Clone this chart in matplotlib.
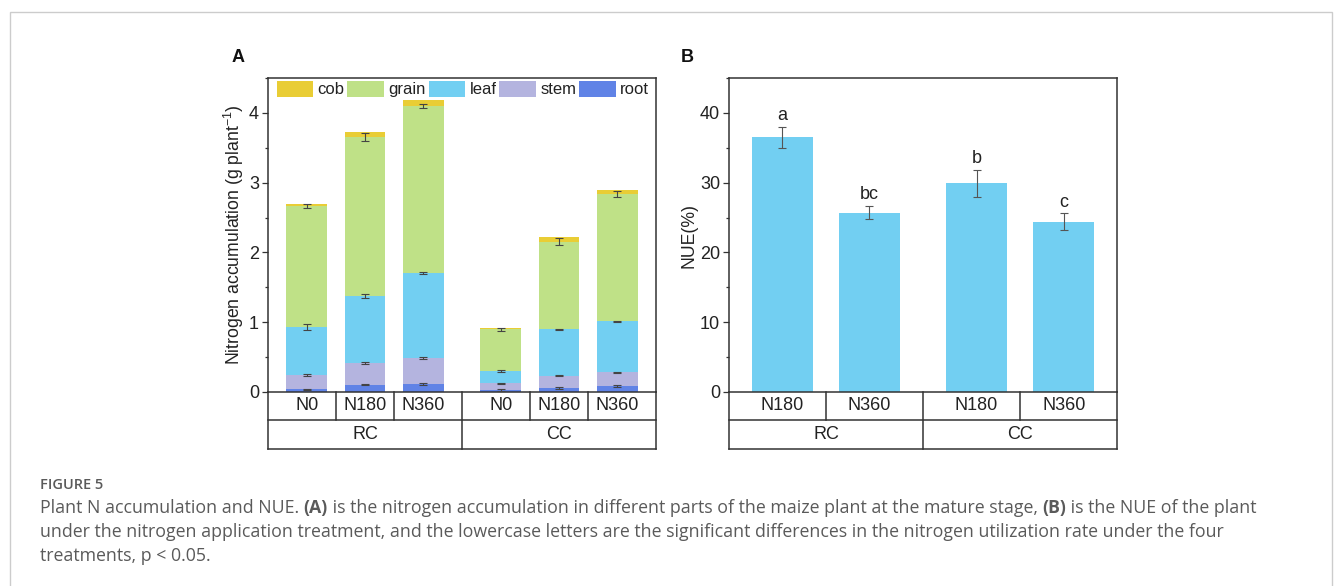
import matplotlib
matplotlib.use("Agg")
import matplotlib.pyplot as plt
import numpy as np
from matplotlib.patches import Rectangle, Patch
from matplotlib.ticker import MultipleLocator

plt.rcParams['font.family'] = ['Liberation Sans', 'DejaVu Sans']
plt.rcParams['mathtext.fontset'] = 'custom'
plt.rcParams['mathtext.rm'] = 'Liberation Sans'
plt.rcParams['mathtext.it'] = 'Liberation Sans:italic'

# ---------------- data ----------------
treatments_a = ["N0", "N180", "N360", "N0", "N180", "N360"]
systems = ["RC", "CC"]
parts = ["cob", "grain", "leaf", "stem", "root"]
root = [0.04, 0.105, 0.115, 0.03, 0.057, 0.086]
stem = [0.21, 0.31, 0.372, 0.094, 0.177, 0.196]
leaf = [0.68, 0.961, 1.219, 0.172, 0.664, 0.731]
grain = [1.73, 2.274, 2.394, 0.602, 1.257, 1.827]
cob = [0.04, 0.07, 0.08, 0.022, 0.067, 0.06]
root_err = [0.01, 0.01, 0.01, 0.01, 0.01, 0.01]
stem_err = [0.015, 0.02, 0.02, 0.01, 0.01, 0.01]
leaf_err = [0.04, 0.035, 0.02, 0.015, 0.01, 0.01]
grain_err = [0.03, 0.055, 0.03, 0.025, 0.055, 0.045]

treatments_b = ["N180", "N360", "N180", "N360"]
nue = [36.5, 25.7, 29.9, 24.4]
nue_err = [1.5, 0.95, 1.9, 1.2]
nue_letters = ["a", "bc", "b", "c"]

colors = {"cob": "#E9CD35", "grain": "#BFE187", "leaf": "#72CFF2",
          "stem": "#B4B4DF", "root": "#6083E6"}
ink = "#222222"
errc = "#444444"
FS = 13

W, H = 1335, 586
fig = plt.figure(figsize=(W / 100, H / 100), dpi=100)

def px_axes(l, t, r, b):
    return fig.add_axes([l / W, 1 - b / H, (r - l) / W, (b - t) / H])

axA = px_axes(268, 78, 656, 392)
axB = px_axes(729, 78, 1117, 392)

# ---------- panel A ----------
gapA = 0.335
xA = np.array([i + (gapA if i >= 3 else 0) for i in range(6)])
wA = 0.70
vals = {"root": root, "stem": stem, "leaf": leaf, "grain": grain, "cob": cob}
errs = {"root": root_err, "stem": stem_err, "leaf": leaf_err, "grain": grain_err}
bottom = np.zeros(6)
for p in ["root", "stem", "leaf", "grain", "cob"]:
    v = np.array(vals[p])
    axA.bar(xA, v, wA, bottom=bottom, color=colors[p], edgecolor="none", zorder=2)
    if p in errs:
        axA.errorbar(xA, bottom + v, yerr=errs[p], fmt="none", ecolor=errc,
                     elinewidth=0.8, capsize=2.6, capthick=0.8, zorder=3)
    bottom = bottom + v

axA.set_xlim(-0.665, xA[-1] + 0.665)
axA.set_ylim(0, 4.5)
axA.yaxis.set_major_locator(MultipleLocator(1))
axA.yaxis.set_minor_locator(MultipleLocator(0.5))
axA.set_ylabel(r"Nitrogen accumulation (g plant$^{-1}$)", fontsize=12.7, color=ink, labelpad=2)

handles = [Patch(facecolor=colors[p], edgecolor="none") for p in parts]
axA.legend(handles, parts, ncol=5, loc="upper left", bbox_to_anchor=(0.022, 0.992),
           frameon=False, fontsize=12, handlelength=2.2, handleheight=1.1,
           handletextpad=0.25, columnspacing=0.18, borderpad=0, borderaxespad=0,
           labelcolor=ink)

# ---------- panel B ----------
gapB = 0.23
xB = np.array([i + (gapB if i >= 2 else 0) for i in range(4)])
wB = 0.70
axB.bar(xB, nue, wB, color=colors["leaf"], edgecolor="none", zorder=2)
axB.errorbar(xB, nue, yerr=nue_err, fmt="none", ecolor="#555555",
             elinewidth=0.8, capsize=3, capthick=0.8, zorder=3)
for x, v, e, s in zip(xB, nue, nue_err, nue_letters):
    axB.annotate(s, (x, v + e), xytext=(0, 2), textcoords="offset points",
                 ha="center", va="bottom", fontsize=FS, color=ink)
axB.set_xlim(-0.61, xB[-1] + 0.61)
axB.set_ylim(0, 45)
axB.yaxis.set_major_locator(MultipleLocator(10))
axB.yaxis.set_minor_locator(MultipleLocator(5))
axB.set_ylabel("NUE(%)", fontsize=12.7, color=ink, labelpad=2)

# ---------- common styling + category tables ----------
row1 = 28 / 314
row2 = 57 / 314
for ax, xs, labels, ngroup in [(axA, xA, treatments_a, 3), (axB, xB, treatments_b, 2)]:
    for s in ax.spines.values():
        s.set_color("#333333")
        s.set_linewidth(1.1)
    ax.set_xticks([])
    ax.tick_params(axis="y", which="major", direction="out", length=4.5, width=0.9,
                   labelsize=FS, colors="#333333", labelcolor=ink, pad=2)
    ax.tick_params(axis="y", which="minor", direction="out", length=2.5, width=0.9,
                   colors="#333333")
    trans = ax.get_xaxis_transform()
    x0, x1 = ax.get_xlim()
    lk = dict(color="#333333", lw=1.1, transform=trans, clip_on=False)
    ax.plot([x0, x1], [-row1, -row1], **lk)
    ax.plot([x0, x1], [-row2, -row2], **lk)
    ax.plot([x0, x0], [0, -row2], **lk)
    ax.plot([x1, x1], [0, -row2], **lk)
    n = len(xs)
    for i in range(n - 1):
        xm = (xs[i] + xs[i + 1]) / 2
        if (i + 1) % ngroup == 0:
            ax.plot([xm, xm], [0, -row2], **lk)
        else:
            ax.plot([xm, xm], [0, -row1], **lk)
    for x, lab in zip(xs, labels):
        ax.text(x, -row1 / 2, lab, transform=trans, ha="center", va="center",
                fontsize=FS, color=ink)
    bounds = [x0] + [(xs[g * ngroup - 1] + xs[g * ngroup]) / 2 for g in range(1, len(systems))] + [x1]
    for g, sname in enumerate(systems):
        ax.text((bounds[g] + bounds[g + 1]) / 2, -(row1 + row2) / 2, sname, transform=trans,
                ha="center", va="center", fontsize=FS, color=ink)

fig.text(238 / W, 1 - 57 / H, "A", fontsize=13, fontweight="bold", ha="center", va="center", color="#111111")
fig.text(687 / W, 1 - 57 / H, "B", fontsize=13, fontweight="bold", ha="center", va="center", color="#111111")

# ---------- frame + caption ----------
fig.patches.append(Rectangle((10 / W, -0.1), (1332 - 10) / W, 1.1 - 12 / H,
                             transform=fig.transFigure, fill=False, edgecolor="#CCCCCC",
                             lw=1.0, clip_on=False))

capc = "#5A5A5A"
cfont = ["Open Sans", "DejaVu Sans"]
fig.text(40 / W, 1 - 485 / H, "FIGURE 5", fontsize=10.5, fontweight="semibold",
         family=cfont, color=capc, va="center", ha="left")

cap_size = 12.8
line1 = [("Plant N accumulation and NUE. ", "normal"), ("(A)", "bold"),
         (" is the nitrogen accumulation in different parts of the maize plant at the mature stage, ", "normal"),
         ("(B)", "bold"), (" is the NUE of the plant", "normal")]
line2 = [("under the nitrogen application treatment, and the lowercase letters are the significant differences in the nitrogen utilization rate under the four", "normal")]
line3 = [("treatments, p < 0.05.", "normal")]
for yc, pieces in [(508, line1), (532, line2), (556, line3)]:
    prev = None
    for txt, wt in pieces:
        if prev is None:
            prev = fig.text(40 / W, 1 - yc / H, txt, fontsize=cap_size, fontweight=wt,
                            family=cfont, color=capc, va="center", ha="left")
        else:
            prev = axA.annotate(txt, xy=(1, 0.5), xycoords=prev, va="center", ha="left",
                                fontsize=cap_size, fontweight=wt, family=cfont,
                                color=capc, annotation_clip=False)

fig.savefig("out.png", dpi=100, facecolor="white")
